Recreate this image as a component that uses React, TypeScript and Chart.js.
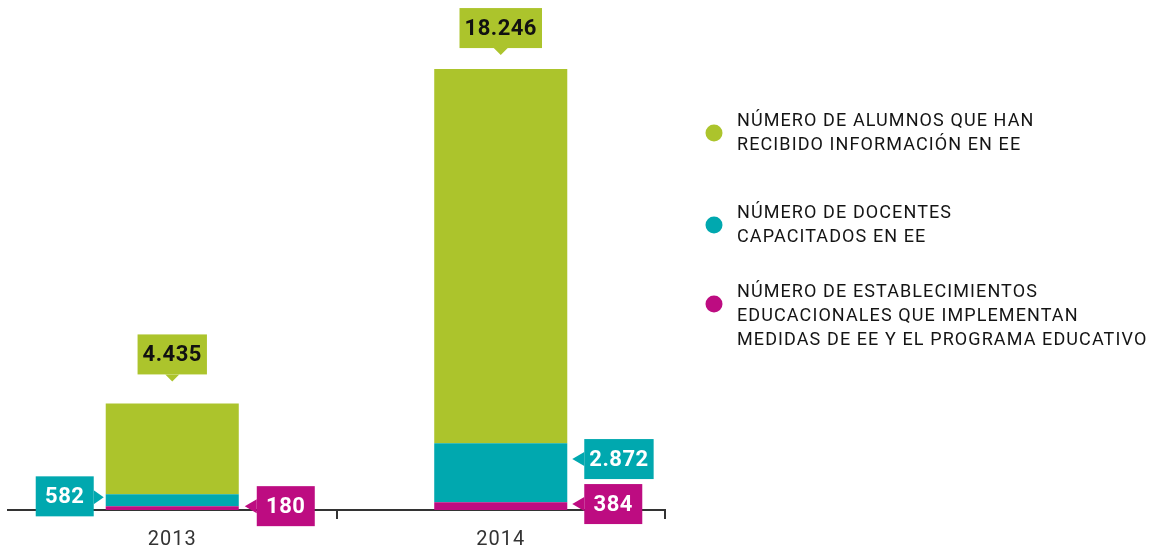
import React, { useEffect, useRef } from "react";
import { Chart, registerables } from "chart.js";
Chart.register(...registerables);

const categories = ["2013", "2014"];
const alumnos = [4435, 18246];
const docentes = [582, 2872];
const establecimientos = [180, 384];

const legendAlumnos = ["NÚMERO DE ALUMNOS QUE HAN", "RECIBIDO INFORMACIÓN EN EE"];
const legendDocentes = ["NÚMERO DE DOCENTES", "CAPACITADOS EN EE"];
const legendEstablecimientos = [
  "NÚMERO DE ESTABLECIMIENTOS",
  "EDUCACIONALES QUE IMPLEMENTAN",
  "MEDIDAS DE EE Y EL PROGRAMA EDUCATIVO",
];

const GREEN = "#acc42c";
const TEAL = "#00a8af";
const MAGENTA = "#bd0c81";

const fmt = (v: number) => String(v).replace(/\B(?=(\d{3})+(?!\d))/g, ".");

const FONT = "Roboto, 'DejaVu Sans', sans-serif";

function drawBox(
  ctx: CanvasRenderingContext2D,
  text: string,
  color: string,
  textColor: string,
  dir: "down" | "left" | "right",
  tipX: number,
  tipY: number,
  boxCenterY?: number
) {
  ctx.save();
  (ctx as any).letterSpacing = "0.5px";
  ctx.font = `bold 22px ${FONT}`;
  const tw = ctx.measureText(text).width;
  const w = Math.max(58, tw + 10);
  const h = 40;
  let bx = 0, by = 0;
  ctx.fillStyle = color;
  ctx.beginPath();
  if (dir === "down") {
    bx = tipX - w / 2;
    by = tipY - 7 - h;
    ctx.moveTo(tipX - 7, by + h);
    ctx.lineTo(tipX, tipY);
    ctx.lineTo(tipX + 7, by + h);
  } else if (dir === "left") {
    const cy = boxCenterY ?? tipY;
    bx = tipX + 12;
    by = cy - h / 2;
    ctx.moveTo(bx, tipY - 7);
    ctx.lineTo(tipX, tipY);
    ctx.lineTo(bx, tipY + 7);
  } else {
    const cy = boxCenterY ?? tipY;
    bx = tipX - 10 - w;
    by = cy - h / 2;
    ctx.moveTo(bx + w, tipY - 7);
    ctx.lineTo(tipX, tipY);
    ctx.lineTo(bx + w, tipY + 7);
  }
  ctx.closePath();
  ctx.fill();
  ctx.fillRect(bx, by, w, h);
  ctx.fillStyle = textColor;
  ctx.textAlign = "center";
  ctx.textBaseline = "middle";
  ctx.fillText(text, bx + w / 2, by + h / 2 + 1);
  ctx.restore();
}

const spacingPlugin = {
  id: "tickSpacing",
  beforeDraw(chart: any) {
    (chart.ctx as any).letterSpacing = "1px";
  },
};

const labelPlugin = {
  id: "valueBoxes",
  afterDatasetsDraw(chart: any) {
    const ctx = chart.ctx as CanvasRenderingContext2D;
    const magMeta = chart.getDatasetMeta(0);
    const tealMeta = chart.getDatasetMeta(1);
    const greenMeta = chart.getDatasetMeta(2);
    categories.forEach((_, i) => {
      const mag = magMeta.data[i] as any;
      const teal = tealMeta.data[i] as any;
      const green = greenMeta.data[i] as any;
      const half = mag.width / 2;
      const left = mag.x - half;
      const right = mag.x + half;
      drawBox(ctx, fmt(alumnos[i]), GREEN, "#111", "down", green.x, green.y - 14 - (i === 0 ? 8 : 0));
      const magCy = (mag.y + mag.base) / 2;
      const tealCy = (teal.y + teal.base) / 2;
      if (i === 0) {
        drawBox(ctx, fmt(docentes[i]), TEAL, "#fff", "right", left - 2, tealCy - 3, tealCy - 4);
        drawBox(ctx, fmt(establecimientos[i]), MAGENTA, "#fff", "left", right + 6, magCy - 2, magCy - 2);
      } else {
        const magBoxCy = magCy - 2;
        const tealBoxCy = Math.min(tealCy, magBoxCy - 45);
        drawBox(ctx, fmt(establecimientos[i]), MAGENTA, "#fff", "left", right + 5, magBoxCy, magBoxCy);
        drawBox(ctx, fmt(docentes[i]), TEAL, "#fff", "left", right + 5, tealBoxCy, tealBoxCy);
      }
    });
  },
};

const legendPlugin = {
  id: "sideLegend",
  afterDraw(chart: any) {
    const ctx = chart.ctx as CanvasRenderingContext2D;
    const x0 = chart.chartArea.right;
    const items = [
      { lines: legendAlumnos, color: GREEN, top: 121 },
      { lines: legendDocentes, color: TEAL, top: 213 },
      { lines: legendEstablecimientos, color: MAGENTA, top: 292 },
    ];
    ctx.save();
    (ctx as any).letterSpacing = "1.1px";
    ctx.font = `18px ${FONT}`;
    ctx.textBaseline = "middle";
    ctx.textAlign = "left";
    items.forEach((it) => {
      ctx.fillStyle = it.color;
      ctx.beginPath();
      ctx.arc(x0 + 49, it.top + 12, 8.5, 0, Math.PI * 2);
      ctx.fill();
      ctx.fillStyle = "#141414";
      it.lines.forEach((ln, k) => ctx.fillText(ln, x0 + 72, it.top + k * 24));
    });
    ctx.restore();
  },
};

export default function App() {
  const ref = useRef<HTMLCanvasElement>(null);
  useEffect(() => {
    document.body.style.margin = "0";
    const chart = new Chart(ref.current!, {
      type: "bar",
      data: {
        labels: categories,
        datasets: [
          { label: legendEstablecimientos.join(" "), data: establecimientos, backgroundColor: MAGENTA },
          { label: legendDocentes.join(" "), data: docentes, backgroundColor: TEAL },
          { label: legendAlumnos.join(" "), data: alumnos, backgroundColor: GREEN },
        ],
      },
      options: {
        animation: false,
        responsive: false,
        maintainAspectRatio: false,
        layout: { padding: { left: 8, right: 485, top: 0, bottom: 0 } },
        plugins: { legend: { display: false }, tooltip: { enabled: false } },
        datasets: { bar: { barPercentage: 0.405, categoryPercentage: 1 } },
        scales: {
          x: {
            stacked: true,
            afterFit: (s: any) => { s.height = 40; },
            grid: {
              display: true,
              drawOnChartArea: false,
              drawTicks: true,
              tickLength: 9,
              offset: true,
              lineWidth: 2,
              color: (c: any) => (c.index === 0 ? "rgba(0,0,0,0)" : "#333"),
            },
            border: { display: true, color: "#333", width: 2 },
            ticks: { color: "#333", font: { family: FONT, size: 20 }, padding: 9 },
          },
          y: {
            stacked: true,
            display: false,
            min: 0,
            max: 24870,
          },
        },
      },
      plugins: [spacingPlugin, labelPlugin, legendPlugin],
    });
    return () => chart.destroy();
  }, []);
  return <canvas ref={ref} width={1150} height={550} style={{ display: "block" }} />;
}
